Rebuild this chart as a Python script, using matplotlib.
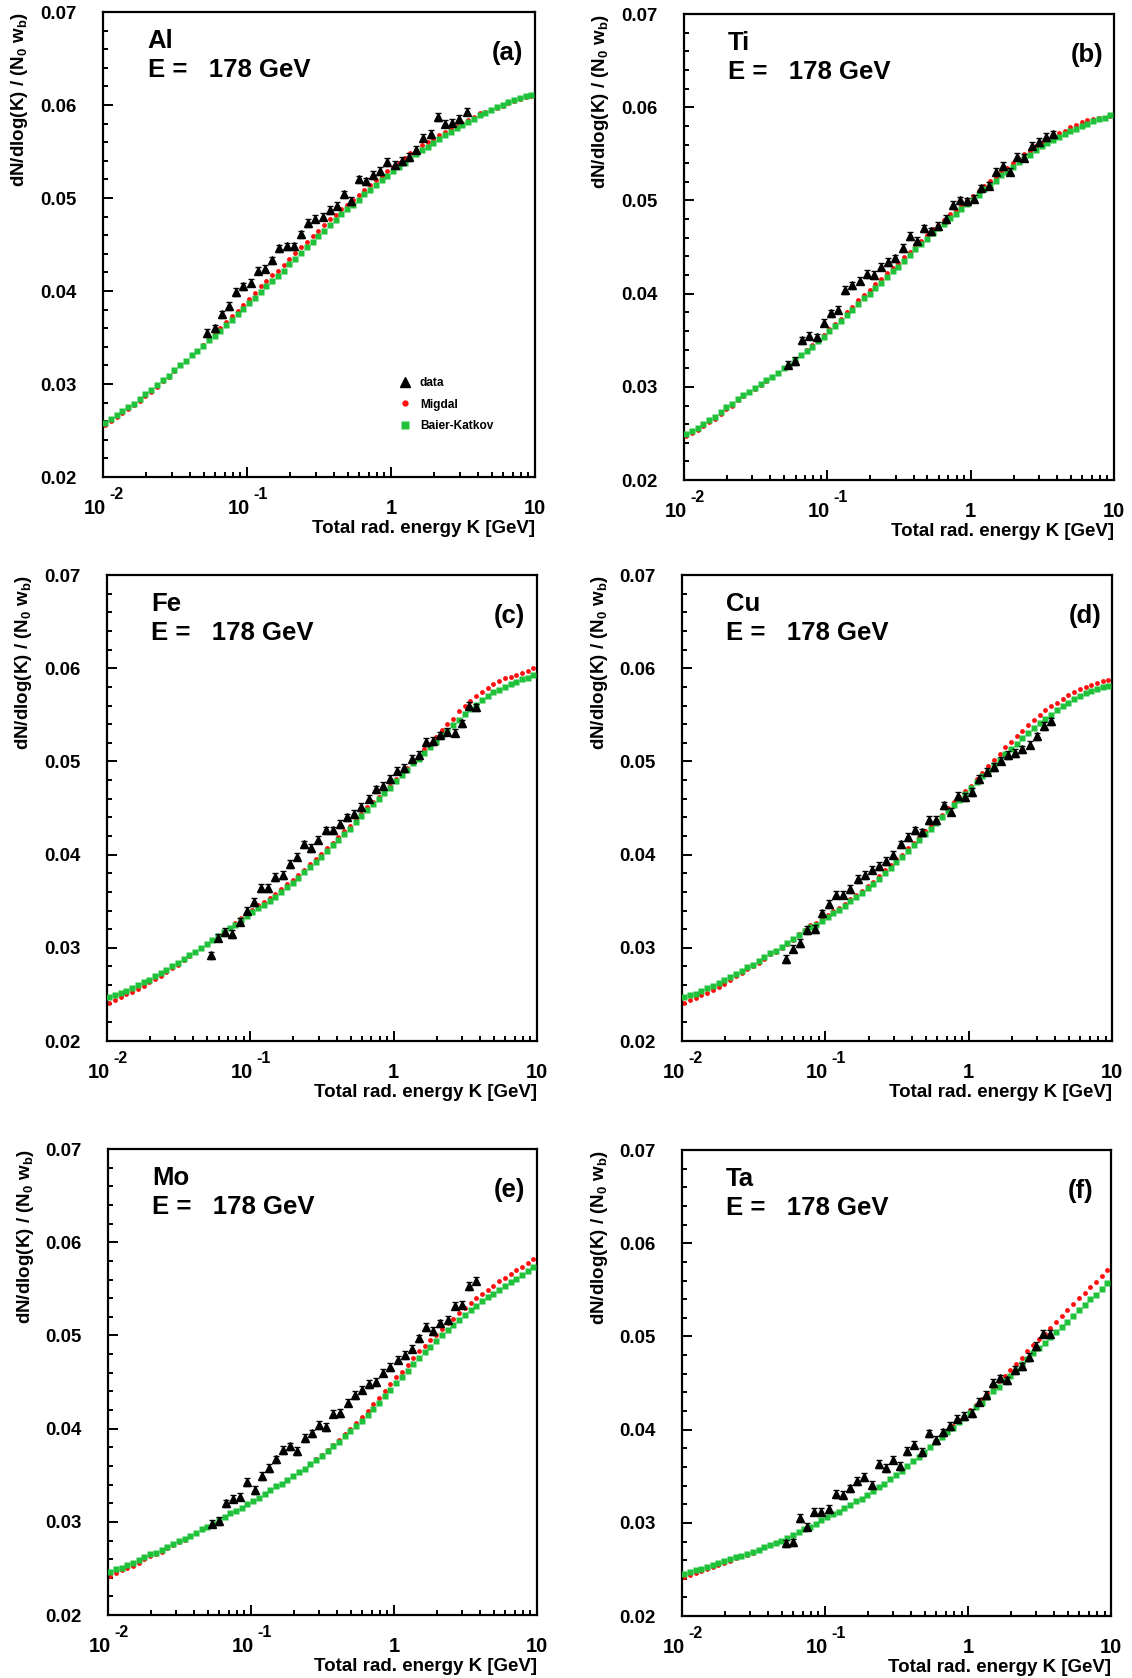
"""dN/dlog(K) spectra for six targets at E = 178 GeV: data vs Migdal vs Baier-Katkov."""

import matplotlib
matplotlib.use("Agg")
import matplotlib.pyplot as plt
import numpy as np
from matplotlib.ticker import LogLocator, MultipleLocator, NullFormatter

plt.rcParams["font.family"] = ["Liberation Sans", "DejaVu Sans"]
plt.rcParams["font.weight"] = "bold"
plt.rcParams["mathtext.fontset"] = "custom"
plt.rcParams["mathtext.rm"] = "Liberation Sans:bold"
plt.rcParams["mathtext.it"] = "Liberation Sans:bold"
plt.rcParams["mathtext.bf"] = "Liberation Sans:bold"

# log10(K / GeV) of the theory points and of the data bins
LOGK_THEORY = [
    -1.985, -1.945, -1.905, -1.865, -1.825, -1.785, -1.745, -1.705, -1.665, -1.625,
    -1.585, -1.545, -1.505, -1.465, -1.425, -1.385, -1.345, -1.305, -1.265, -1.225,
    -1.185, -1.145, -1.105, -1.065, -1.025, -0.985, -0.945, -0.905, -0.865, -0.825,
    -0.785, -0.745, -0.705, -0.665, -0.625, -0.585, -0.545, -0.505, -0.465, -0.425,
    -0.385, -0.345, -0.305, -0.265, -0.225, -0.185, -0.145, -0.105, -0.065, -0.025,
    0.015, 0.055, 0.095, 0.135, 0.175, 0.215, 0.255, 0.295, 0.335, 0.375,
    0.415, 0.455, 0.495, 0.535, 0.575, 0.615, 0.655, 0.695, 0.735, 0.775,
    0.815, 0.855, 0.895, 0.935, 0.975,
]
LOGK_DATA = [
    -1.275, -1.225, -1.175, -1.125, -1.075, -1.025, -0.975, -0.925, -0.875, -0.825,
    -0.775, -0.725, -0.675, -0.625, -0.575, -0.525, -0.475, -0.425, -0.375, -0.325,
    -0.275, -0.225, -0.175, -0.125, -0.075, -0.025, 0.025, 0.075, 0.125, 0.175,
    0.225, 0.275, 0.325, 0.375, 0.425, 0.475, 0.525, 0.575,
]

# (a) Al
BK_AL = [
    0.0258, 0.0262, 0.0267, 0.0271, 0.0275, 0.0279, 0.0284, 0.0289, 0.0294, 0.0299,
    0.0304, 0.0309, 0.0315, 0.0320, 0.0325, 0.0331, 0.0336, 0.0341, 0.0347, 0.0352,
    0.0357, 0.0364, 0.0369, 0.0375, 0.0381, 0.0387, 0.0393, 0.0399, 0.0405, 0.0411,
    0.0416, 0.0422, 0.0429, 0.0435, 0.0441, 0.0447, 0.0453, 0.0459, 0.0465, 0.0471,
    0.0476, 0.0483, 0.0488, 0.0493, 0.0498, 0.0504, 0.0509, 0.0514, 0.0519, 0.0524,
    0.0529, 0.0533, 0.0538, 0.0543, 0.0547, 0.0552, 0.0555, 0.0559, 0.0564, 0.0568,
    0.0571, 0.0575, 0.0579, 0.0582, 0.0585, 0.0589, 0.0592, 0.0595, 0.0598, 0.0600,
    0.0603, 0.0605, 0.0608, 0.0610, 0.0611,
]
MIG_AL = [
    0.0256, 0.0260, 0.0265, 0.0269, 0.0273, 0.0277, 0.0282, 0.0287, 0.0292, 0.0297,
    0.0303, 0.0308, 0.0314, 0.0320, 0.0325, 0.0331, 0.0336, 0.0342, 0.0349, 0.0354,
    0.0360, 0.0367, 0.0373, 0.0379, 0.0385, 0.0392, 0.0398, 0.0405, 0.0411, 0.0417,
    0.0422, 0.0428, 0.0435, 0.0441, 0.0447, 0.0453, 0.0459, 0.0465, 0.0471, 0.0477,
    0.0482, 0.0488, 0.0493, 0.0498, 0.0503, 0.0509, 0.0514, 0.0519, 0.0524, 0.0529,
    0.0533, 0.0538, 0.0543, 0.0548, 0.0552, 0.0557, 0.0560, 0.0564, 0.0568, 0.0571,
    0.0574, 0.0577, 0.0581, 0.0584, 0.0587, 0.0591, 0.0593, 0.0595, 0.0597, 0.0599,
    0.0602, 0.0604, 0.0607, 0.0609, 0.0610,
]
DATA_AL = [
    0.0355, 0.0360, 0.0375, 0.0384, 0.0399, 0.0405, 0.0409, 0.0422, 0.0424, 0.0433,
    0.0446, 0.0448, 0.0448, 0.0461, 0.0473, 0.0478, 0.0480, 0.0487, 0.0492, 0.0504,
    0.0497, 0.0520, 0.0518, 0.0525, 0.0529, 0.0539, 0.0536, 0.0540, 0.0544, 0.0552,
    0.0565, 0.0569, 0.0587, 0.0580, 0.0581, 0.0585, 0.0593,
]

# (b) Ti
BK_TI = [
    0.0249, 0.0253, 0.0256, 0.0260, 0.0264, 0.0268, 0.0273, 0.0278, 0.0282, 0.0287,
    0.0291, 0.0295, 0.0299, 0.0303, 0.0307, 0.0311, 0.0315, 0.0320, 0.0324, 0.0329,
    0.0334, 0.0338, 0.0343, 0.0349, 0.0354, 0.0360, 0.0365, 0.0371, 0.0377, 0.0383,
    0.0389, 0.0395, 0.0400, 0.0406, 0.0412, 0.0418, 0.0424, 0.0429, 0.0435, 0.0441,
    0.0448, 0.0453, 0.0459, 0.0465, 0.0470, 0.0475, 0.0481, 0.0486, 0.0491, 0.0496,
    0.0501, 0.0506, 0.0512, 0.0517, 0.0521, 0.0527, 0.0531, 0.0536, 0.0541, 0.0546,
    0.0549, 0.0554, 0.0558, 0.0562, 0.0565, 0.0568, 0.0571, 0.0575, 0.0577, 0.0580,
    0.0582, 0.0585, 0.0587, 0.0589, 0.0592,
]
MIG_TI = [
    0.0247, 0.0251, 0.0254, 0.0258, 0.0262, 0.0266, 0.0271, 0.0276, 0.0280, 0.0286,
    0.0290, 0.0294, 0.0298, 0.0302, 0.0306, 0.0311, 0.0315, 0.0320, 0.0324, 0.0329,
    0.0334, 0.0340, 0.0345, 0.0351, 0.0356, 0.0362, 0.0367, 0.0373, 0.0380, 0.0386,
    0.0393, 0.0399, 0.0404, 0.0410, 0.0416, 0.0422, 0.0428, 0.0433, 0.0439, 0.0445,
    0.0452, 0.0457, 0.0463, 0.0469, 0.0474, 0.0479, 0.0485, 0.0490, 0.0495, 0.0500,
    0.0505, 0.0510, 0.0516, 0.0521, 0.0525, 0.0531, 0.0535, 0.0540, 0.0545, 0.0550,
    0.0553, 0.0558, 0.0562, 0.0566, 0.0569, 0.0572, 0.0575, 0.0579, 0.0581, 0.0584,
    0.0586, 0.0587, 0.0589, 0.0589, 0.0591,
]
DATA_TI = [
    0.0324, 0.0328, 0.0350, 0.0355, 0.0353, 0.0369, 0.0379, 0.0383, 0.0404, 0.0409,
    0.0414, 0.0421, 0.0420, 0.0429, 0.0434, 0.0438, 0.0449, 0.0462, 0.0457, 0.0470,
    0.0467, 0.0473, 0.0480, 0.0495, 0.0500, 0.0499, 0.0502, 0.0513, 0.0516, 0.0531,
    0.0537, 0.0531, 0.0547, 0.0546, 0.0559, 0.0563, 0.0568, 0.0571,
]

# (c) Fe
BK_FE = [
    0.0247, 0.0249, 0.0252, 0.0254, 0.0257, 0.0260, 0.0263, 0.0266, 0.0270, 0.0273,
    0.0276, 0.0280, 0.0284, 0.0288, 0.0292, 0.0296, 0.0300, 0.0304, 0.0308, 0.0313,
    0.0317, 0.0321, 0.0325, 0.0330, 0.0334, 0.0338, 0.0343, 0.0346, 0.0350, 0.0355,
    0.0360, 0.0365, 0.0370, 0.0375, 0.0381, 0.0387, 0.0392, 0.0398, 0.0404, 0.0410,
    0.0416, 0.0422, 0.0428, 0.0435, 0.0441, 0.0448, 0.0454, 0.0460, 0.0466, 0.0472,
    0.0479, 0.0485, 0.0491, 0.0498, 0.0503, 0.0509, 0.0515, 0.0521, 0.0528, 0.0533,
    0.0539, 0.0545, 0.0551, 0.0556, 0.0561, 0.0566, 0.0570, 0.0574, 0.0577, 0.0580,
    0.0583, 0.0585, 0.0588, 0.0590, 0.0593,
]
MIG_FE = [
    0.0241, 0.0244, 0.0247, 0.0250, 0.0253, 0.0256, 0.0259, 0.0263, 0.0267, 0.0270,
    0.0274, 0.0278, 0.0282, 0.0287, 0.0291, 0.0296, 0.0300, 0.0304, 0.0308, 0.0313,
    0.0317, 0.0321, 0.0327, 0.0332, 0.0337, 0.0341, 0.0346, 0.0349, 0.0353, 0.0358,
    0.0363, 0.0368, 0.0373, 0.0378, 0.0384, 0.0390, 0.0395, 0.0401, 0.0407, 0.0413,
    0.0419, 0.0425, 0.0431, 0.0438, 0.0444, 0.0451, 0.0456, 0.0462, 0.0468, 0.0474,
    0.0481, 0.0487, 0.0493, 0.0500, 0.0505, 0.0513, 0.0519, 0.0526, 0.0534, 0.0540,
    0.0546, 0.0554, 0.0560, 0.0565, 0.0570, 0.0575, 0.0579, 0.0583, 0.0586, 0.0589,
    0.0591, 0.0593, 0.0595, 0.0597, 0.0600,
]
DATA_FE = [
    0.0292, 0.0311, 0.0317, 0.0315, 0.0328, 0.0340, 0.0349, 0.0364, 0.0364, 0.0376,
    0.0378, 0.0390, 0.0398, 0.0411, 0.0407, 0.0416, 0.0426, 0.0426, 0.0433, 0.0440,
    0.0444, 0.0451, 0.0460, 0.0470, 0.0474, 0.0481, 0.0490, 0.0493, 0.0503, 0.0507,
    0.0521, 0.0522, 0.0528, 0.0532, 0.0531, 0.0541, 0.0560, 0.0558,
]

# (d) Cu
BK_CU = [
    0.0247, 0.0249, 0.0251, 0.0254, 0.0257, 0.0259, 0.0262, 0.0265, 0.0269, 0.0272,
    0.0275, 0.0279, 0.0282, 0.0286, 0.0290, 0.0294, 0.0297, 0.0301, 0.0305, 0.0309,
    0.0314, 0.0318, 0.0322, 0.0325, 0.0329, 0.0333, 0.0337, 0.0341, 0.0345, 0.0350,
    0.0355, 0.0359, 0.0364, 0.0369, 0.0374, 0.0380, 0.0386, 0.0392, 0.0397, 0.0404,
    0.0410, 0.0416, 0.0422, 0.0428, 0.0434, 0.0440, 0.0447, 0.0453, 0.0459, 0.0465,
    0.0471, 0.0478, 0.0484, 0.0490, 0.0496, 0.0502, 0.0508, 0.0513, 0.0519, 0.0525,
    0.0530, 0.0536, 0.0541, 0.0546, 0.0550, 0.0555, 0.0559, 0.0563, 0.0567, 0.0570,
    0.0573, 0.0576, 0.0578, 0.0580, 0.0581,
]
MIG_CU = [
    0.0241, 0.0244, 0.0246, 0.0249, 0.0252, 0.0255, 0.0258, 0.0261, 0.0266, 0.0270,
    0.0273, 0.0277, 0.0280, 0.0284, 0.0288, 0.0293, 0.0296, 0.0300, 0.0304, 0.0308,
    0.0315, 0.0319, 0.0324, 0.0327, 0.0331, 0.0335, 0.0339, 0.0343, 0.0347, 0.0352,
    0.0357, 0.0361, 0.0366, 0.0371, 0.0377, 0.0383, 0.0389, 0.0395, 0.0400, 0.0407,
    0.0413, 0.0419, 0.0425, 0.0431, 0.0437, 0.0443, 0.0450, 0.0456, 0.0462, 0.0468,
    0.0474, 0.0481, 0.0488, 0.0495, 0.0502, 0.0508, 0.0515, 0.0521, 0.0527, 0.0533,
    0.0539, 0.0545, 0.0550, 0.0555, 0.0559, 0.0563, 0.0567, 0.0571, 0.0575, 0.0578,
    0.0580, 0.0582, 0.0584, 0.0586, 0.0587,
]
DATA_CU = [
    0.0288, 0.0299, 0.0305, 0.0319, 0.0320, 0.0337, 0.0347, 0.0357, 0.0357, 0.0363,
    0.0374, 0.0378, 0.0384, 0.0388, 0.0393, 0.0400, 0.0411, 0.0419, 0.0426, 0.0424,
    0.0437, 0.0437, 0.0453, 0.0446, 0.0463, 0.0462, 0.0467, 0.0481, 0.0489, 0.0494,
    0.0501, 0.0507, 0.0509, 0.0513, 0.0518, 0.0527, 0.0538, 0.0543,
]

# (e) Mo
BK_MO = [
    0.0246, 0.0249, 0.0251, 0.0254, 0.0256, 0.0259, 0.0262, 0.0265, 0.0267, 0.0270,
    0.0273, 0.0276, 0.0279, 0.0282, 0.0285, 0.0288, 0.0292, 0.0295, 0.0298, 0.0302,
    0.0305, 0.0309, 0.0312, 0.0315, 0.0319, 0.0322, 0.0326, 0.0330, 0.0334, 0.0338,
    0.0341, 0.0345, 0.0349, 0.0353, 0.0357, 0.0362, 0.0366, 0.0371, 0.0376, 0.0381,
    0.0386, 0.0392, 0.0397, 0.0403, 0.0408, 0.0415, 0.0421, 0.0428, 0.0435, 0.0442,
    0.0449, 0.0455, 0.0462, 0.0469, 0.0476, 0.0482, 0.0488, 0.0494, 0.0500, 0.0506,
    0.0511, 0.0517, 0.0522, 0.0527, 0.0532, 0.0537, 0.0541, 0.0545, 0.0549, 0.0553,
    0.0557, 0.0561, 0.0565, 0.0569, 0.0573,
]
MIG_MO = [
    0.0242, 0.0245, 0.0248, 0.0251, 0.0253, 0.0256, 0.0260, 0.0263, 0.0265, 0.0268,
    0.0272, 0.0275, 0.0278, 0.0281, 0.0285, 0.0288, 0.0292, 0.0295, 0.0298, 0.0302,
    0.0305, 0.0309, 0.0312, 0.0315, 0.0319, 0.0322, 0.0326, 0.0330, 0.0334, 0.0338,
    0.0341, 0.0345, 0.0349, 0.0353, 0.0357, 0.0362, 0.0367, 0.0372, 0.0377, 0.0383,
    0.0388, 0.0394, 0.0400, 0.0406, 0.0412, 0.0419, 0.0426, 0.0433, 0.0440, 0.0448,
    0.0455, 0.0461, 0.0468, 0.0476, 0.0483, 0.0489, 0.0495, 0.0501, 0.0507, 0.0513,
    0.0518, 0.0524, 0.0529, 0.0535, 0.0540, 0.0545, 0.0549, 0.0553, 0.0558, 0.0562,
    0.0566, 0.0570, 0.0574, 0.0578, 0.0582,
]
DATA_MO = [
    0.0298, 0.0301, 0.0320, 0.0325, 0.0327, 0.0343, 0.0334, 0.0349, 0.0358, 0.0367,
    0.0377, 0.0381, 0.0376, 0.0390, 0.0395, 0.0404, 0.0402, 0.0416, 0.0417, 0.0428,
    0.0436, 0.0442, 0.0448, 0.0450, 0.0460, 0.0466, 0.0474, 0.0479, 0.0486, 0.0497,
    0.0509, 0.0505, 0.0513, 0.0517, 0.0532, 0.0533, 0.0553, 0.0559,
]

# (f) Ta
BK_TA = [
    0.0245, 0.0247, 0.0249, 0.0251, 0.0253, 0.0255, 0.0257, 0.0259, 0.0261, 0.0263,
    0.0265, 0.0267, 0.0269, 0.0271, 0.0274, 0.0276, 0.0278, 0.0281, 0.0284, 0.0287,
    0.0290, 0.0293, 0.0296, 0.0299, 0.0303, 0.0306, 0.0309, 0.0312, 0.0316, 0.0319,
    0.0323, 0.0326, 0.0330, 0.0334, 0.0338, 0.0342, 0.0347, 0.0351, 0.0356, 0.0361,
    0.0366, 0.0371, 0.0376, 0.0381, 0.0387, 0.0392, 0.0397, 0.0402, 0.0408, 0.0413,
    0.0418, 0.0424, 0.0429, 0.0435, 0.0441, 0.0446, 0.0452, 0.0458, 0.0464, 0.0470,
    0.0476, 0.0482, 0.0488, 0.0493, 0.0499, 0.0505, 0.0510, 0.0516, 0.0522, 0.0528,
    0.0534, 0.0540, 0.0545, 0.0551, 0.0557,
]
MIG_TA = [
    0.0242, 0.0244, 0.0246, 0.0248, 0.0251, 0.0253, 0.0255, 0.0257, 0.0259, 0.0262,
    0.0264, 0.0266, 0.0268, 0.0271, 0.0274, 0.0276, 0.0278, 0.0281, 0.0284, 0.0287,
    0.0290, 0.0293, 0.0296, 0.0299, 0.0303, 0.0306, 0.0309, 0.0312, 0.0316, 0.0319,
    0.0323, 0.0326, 0.0330, 0.0334, 0.0338, 0.0342, 0.0347, 0.0351, 0.0356, 0.0361,
    0.0366, 0.0371, 0.0376, 0.0381, 0.0388, 0.0393, 0.0398, 0.0404, 0.0410, 0.0415,
    0.0421, 0.0427, 0.0433, 0.0439, 0.0446, 0.0452, 0.0458, 0.0464, 0.0471, 0.0477,
    0.0484, 0.0491, 0.0497, 0.0503, 0.0509, 0.0516, 0.0522, 0.0528, 0.0535, 0.0541,
    0.0547, 0.0553, 0.0559, 0.0565, 0.0571,
]
DATA_TA = [
    0.0278, 0.0279, 0.0305, 0.0296, 0.0312, 0.0312, 0.0315, 0.0331, 0.0330, 0.0337,
    0.0345, 0.0349, 0.0341, 0.0363, 0.0359, 0.0368, 0.0361, 0.0377, 0.0384, 0.0376,
    0.0396, 0.0389, 0.0397, 0.0404, 0.0412, 0.0415, 0.0418, 0.0430, 0.0437, 0.0450,
    0.0455, 0.0453, 0.0464, 0.0468, 0.0478, 0.0490, 0.0503, 0.0503,
]

DATA_ERR = 0.0004  # stat. error bar half-height, roughly the same everywhere

TARGETS = ["Al", "Ti", "Fe", "Cu", "Mo", "Ta"]
TAGS = ["(a)", "(b)", "(c)", "(d)", "(e)", "(f)"]
BAIER_KATKOV = [BK_AL, BK_TI, BK_FE, BK_CU, BK_MO, BK_TA]
MIGDAL = [MIG_AL, MIG_TI, MIG_FE, MIG_CU, MIG_MO, MIG_TA]
DATA = [DATA_AL, DATA_TI, DATA_FE, DATA_CU, DATA_MO, DATA_TA]

Y_TICKS = [0.02, 0.03, 0.04, 0.05, 0.06, 0.07]
Y_TICK_LABELS = ["0.02", "0.03", "0.04", "0.05", "0.06", "0.07"]
X_TICKS = [0.01, 0.1, 1, 10]
X_TICK_BASES = ["10", "10", "1", "10"]
X_TICK_EXPONENTS = ["-2", "-1", "", ""]
XLABEL = "Total rad. energy K [GeV]"
YLABEL = r"dN/dlog(K) / (N$_0$ w$_b$)"
BEAM = "E =   178 GeV"

# axes rectangles in figure fractions (figure is 1132 x 1678 px)
AXES_RECTS = [
    (0.0910, 0.7157, 0.3816, 0.2771),
    (0.6042, 0.7139, 0.3799, 0.2777),
    (0.0945, 0.3796, 0.3799, 0.2777),
    (0.6025, 0.3796, 0.3799, 0.2777),
    (0.0954, 0.0375, 0.3790, 0.2777),
    (0.6025, 0.0369, 0.3790, 0.2777),
]

RED = "#ff1010"
GREEN = "#1fc23a"


def label_x_ticks(ax):
    # ROOT-style "10 ^-2": base digits slightly left of the tick, exponent raised to the right
    xtrans = ax.get_xaxis_transform()
    for tick, base, expo in zip(X_TICKS, X_TICK_BASES, X_TICK_EXPONENTS):
        if expo:
            ax.annotate(base, xy=(tick, 0), xycoords=xtrans, xytext=(-6, -26.6),
                        textcoords="offset points", ha="center", va="baseline",
                        fontsize=14.5, fontweight="bold", annotation_clip=False)
            ax.annotate(expo, xy=(tick, 0), xycoords=xtrans, xytext=(4.5, -16),
                        textcoords="offset points", ha="left", va="baseline",
                        fontsize=11.5, fontweight="bold", annotation_clip=False)
        else:
            ax.annotate(base, xy=(tick, 0), xycoords=xtrans, xytext=(0, -26.6),
                        textcoords="offset points", ha="center", va="baseline",
                        fontsize=14.5, fontweight="bold", annotation_clip=False)


def draw_panel(ax, target, tag, bk, mig, data, legend=False):
    k_th = 10 ** np.array(LOGK_THEORY)
    k_dat = 10 ** np.array(LOGK_DATA[: len(data)])

    h_mig, = ax.plot(k_th, mig, "o", color=RED, ms=3.5, mec="none", zorder=2)
    h_bk, = ax.plot(k_th, bk, "s", color=GREEN, ms=4.0, mec="none", zorder=3)
    eb = ax.errorbar(k_dat, data, yerr=DATA_ERR, fmt="^", color="black", ms=5.2,
                     mec="black", capsize=2.4, elinewidth=1.0, capthick=1.0, zorder=4)

    ax.set_xscale("log")
    ax.set_xlim(0.01, 10)
    ax.set_ylim(0.02, 0.07)

    ax.set_yticks(Y_TICKS, labels=Y_TICK_LABELS)
    ax.yaxis.set_minor_locator(MultipleLocator(0.002))
    ax.set_xticks(X_TICKS, labels=["", "", "", ""])
    ax.xaxis.set_minor_locator(LogLocator(base=10, subs=range(2, 10)))
    ax.xaxis.set_minor_formatter(NullFormatter())

    ax.tick_params(which="both", direction="in", top=False, right=False, width=1.4)
    ax.tick_params(axis="y", which="major", length=7, pad=19, labelsize=13.4)
    ax.tick_params(axis="y", which="minor", length=3.5)
    ax.tick_params(axis="x", which="major", length=7)
    ax.tick_params(axis="x", which="minor", length=3.5)
    for s in ax.spines.values():
        s.set_linewidth(1.6)
    label_x_ticks(ax)

    ax.text(0.103, 0.923, target, transform=ax.transAxes, fontsize=18.5,
            fontweight="bold", ha="left", va="baseline")
    ax.text(0.103, 0.860, BEAM, transform=ax.transAxes, fontsize=18.5,
            fontweight="bold", ha="left", va="baseline")
    ax.text(0.90, 0.897, tag, transform=ax.transAxes, fontsize=18.5,
            fontweight="bold", ha="left", va="baseline")

    ax.text(1.0, -0.1196, XLABEL, transform=ax.transAxes, fontsize=13.5,
            fontweight="bold", ha="right", va="baseline")
    ax.text(-0.193, 1.0, YLABEL, transform=ax.transAxes, fontsize=13.5,
            fontweight="bold", rotation=90, ha="center", va="top")

    if legend:
        ax.legend([eb.lines[0], h_mig, h_bk], ["data", "Migdal", "Baier-Katkov"],
                  loc="upper left", bbox_to_anchor=(0.685, 0.215), frameon=False,
                  prop={"weight": "bold", "size": 8.6}, handlelength=1.0,
                  handletextpad=0.75, labelspacing=0.8, borderpad=0,
                  borderaxespad=0, markerscale=1.3)


def main():
    fig = plt.figure(figsize=(11.32, 16.78), dpi=100)
    for i, rect in enumerate(AXES_RECTS):
        ax = fig.add_axes(rect)
        draw_panel(ax, TARGETS[i], TAGS[i], BAIER_KATKOV[i], MIGDAL[i], DATA[i],
                   legend=(i == 0))
    fig.savefig("out.png", dpi=100)
    plt.close(fig)


if __name__ == "__main__":
    main()
